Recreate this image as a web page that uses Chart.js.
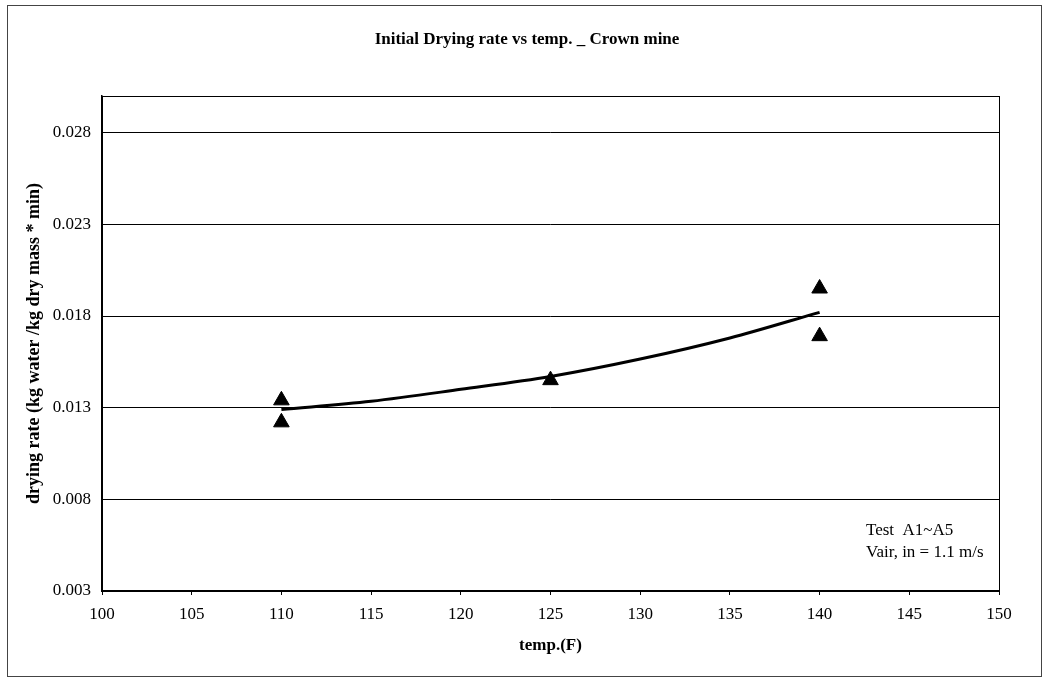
<!DOCTYPE html>
<html>
<head>
<meta charset="utf-8">
<script src="https://cdn.jsdelivr.net/npm/chart.js@4"></script>
<style>
  html, body { margin: 0; padding: 0; background: #fff; }
  #wrap { width: 1045px; height: 680px; }
</style>
</head>
<body>
<div id="wrap"><canvas id="dryChart"></canvas></div>
<script>
// datos
const tempPoints = [110, 110, 125, 140, 140];
const ratePoints = [0.0134, 0.0122, 0.0145, 0.0195, 0.0169];

const trendTemps = [110, 115, 120, 125, 130, 135, 140];
const trendRates = [0.0129, 0.01335, 0.0140, 0.0147, 0.01565, 0.0168, 0.0182];

const yTickValues = [0.003, 0.008, 0.013, 0.018, 0.023, 0.028];

const serif = "'Liberation Serif', 'Times New Roman', serif";

// marco exterior, borde del area, titulo y nota
const framePlugin = {
    id: 'frame',
    afterDraw(chart) {
        const ctx = chart.ctx;
        const a = chart.chartArea;
        ctx.save();
        ctx.strokeStyle = '#000';
        ctx.lineWidth = 1;
        ctx.strokeRect(a.left + 0.5, a.top + 0.5, a.right - a.left, a.bottom - a.top);
        ctx.strokeStyle = '#444';
        ctx.strokeRect(7.5, 5.5, 1034, 671);
        ctx.fillStyle = '#000';
        ctx.font = '17px ' + serif;
        ctx.textBaseline = 'middle';
        ctx.fillText('Test  A1~A5', 866, 531);
        ctx.fillText('Vair, in = 1.1 m/s', 866, 553);
        ctx.font = 'bold 17px ' + serif;
        ctx.textAlign = 'center';
        ctx.fillText('Initial Drying rate vs temp. _ Crown mine', 527, 40);
        ctx.restore();
    }
};

new Chart(document.getElementById('dryChart').getContext('2d'), {
    type: 'scatter',
    data: {
        datasets: [{
            label: 'trend',
            type: 'line',
            data: trendTemps.map((t, i) => ({ x: t, y: trendRates[i] })),
            borderColor: '#000',
            borderWidth: 3,
            pointRadius: 0,
            cubicInterpolationMode: 'monotone',
            fill: false
        }, {
            label: 'datos',
            data: tempPoints.map((t, i) => ({ x: t, y: ratePoints[i] })),
            pointStyle: 'triangle',
            pointRadius: 9,
            backgroundColor: '#000',
            borderColor: '#000'
        }]
    },
    options: {
        responsive: true,
        maintainAspectRatio: false,
        animation: false,
        layout: { padding: { left: 20, right: 46, top: 96, bottom: 20 } },
        plugins: {
            legend: { display: false },
            tooltip: { enabled: false },
            title: { display: false }
        },
        scales: {
            x: {
                type: 'linear',
                min: 100,
                max: 150,
                afterFit: s => { s.height = 69; },
                ticks: {
                    stepSize: 5,
                    color: '#000',
                    padding: 9,
                    font: { family: serif, size: 17 }
                },
                grid: { drawOnChartArea: false, tickLength: 4, color: '#000' },
                border: { display: true, color: '#000', width: 1.5 },
                title: {
                    display: true,
                    text: 'temp.(F)',
                    color: '#000',
                    padding: { top: 9 },
                    font: { family: serif, size: 17, weight: 'bold' }
                }
            },
            y: {
                min: 0.003,
                max: 0.030,
                afterFit: s => { s.width = 82; },
                afterBuildTicks: s => { s.ticks = yTickValues.map(v => ({ value: v })); },
                ticks: {
                    color: '#000',
                    padding: 11,
                    font: { family: serif, size: 17 },
                    callback: v => v.toFixed(3)
                },
                grid: { color: '#000', lineWidth: 1, drawTicks: false },
                border: { display: true, color: '#000', width: 1.5 },
                title: {
                    display: true,
                    text: 'drying rate (kg water /kg dry mass * min)',
                    color: '#000',
                    padding: { bottom: 1 },
                    font: { family: serif, size: 18, weight: 'bold' }
                }
            }
        }
    },
    plugins: [framePlugin]
});
</script>
</body>
</html>
